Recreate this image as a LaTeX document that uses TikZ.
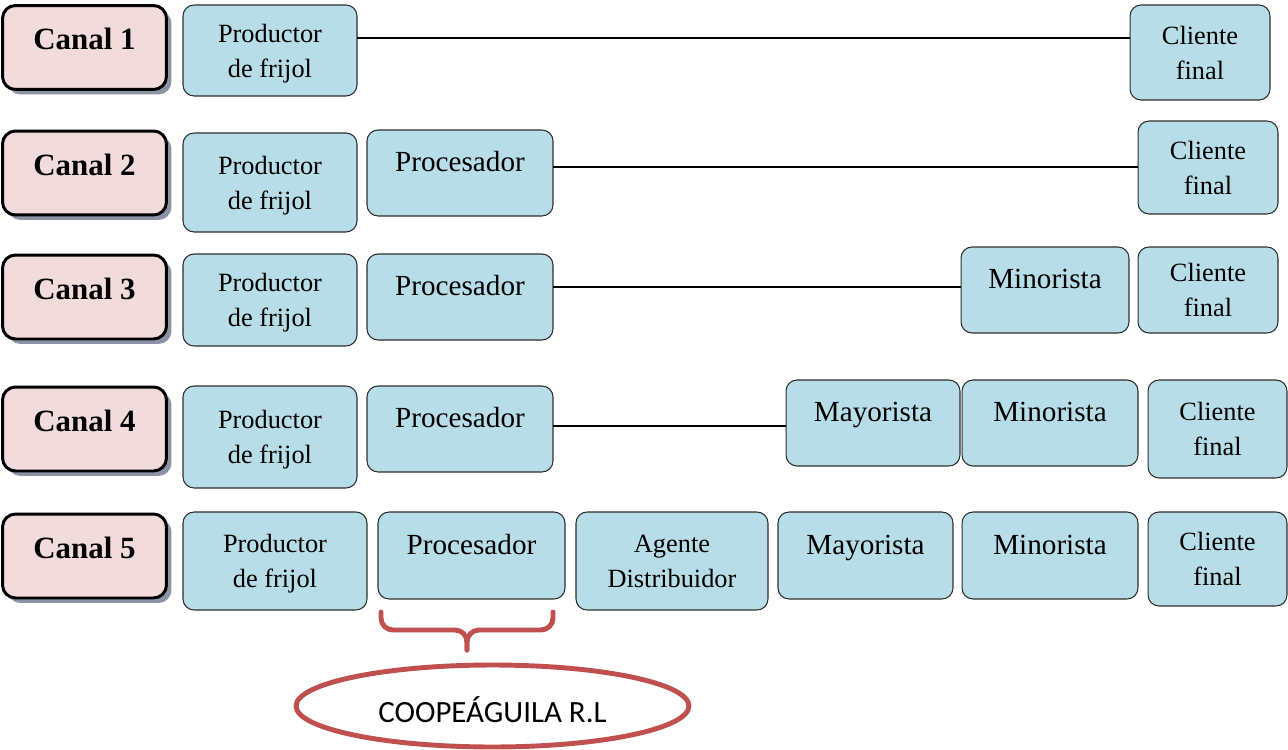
\documentclass[tikz,border=0pt]{standalone}
\usepackage{fontspec}
\setmainfont{Liberation Serif}
\newfontfamily\calibri{Carlito}
\usepackage{tikz}
\usetikzlibrary{shapes.geometric, shadows}
\definecolor{rosa}{HTML}{F2DCDB}
\definecolor{azul}{HTML}{B7DDE8}
\definecolor{borde}{HTML}{2E2E2E}
\definecolor{rojo}{HTML}{C0504D}
\definecolor{sombra}{HTML}{7D889C}
\tikzstyle{canal} = [draw=black, line width=1.7pt, fill=rosa, rounded corners=0.26cm, outer sep=0pt,
  minimum width=3.28cm, minimum height=1.68cm, font=\fontsize{17.6}{20}\selectfont\bfseries,
  text height=0.45cm, text depth=0.36cm,
  drop shadow={shadow xshift=0.1cm, shadow yshift=-0.1cm, fill=sombra, opacity=0.9}]
\tikzstyle{caja} = [draw=borde, line width=0.6pt, fill=azul, rounded corners=0.22cm, outer sep=0pt,
  align=center, font=\fontsize{15}{20}\selectfont, text depth=0pt]
\tikzstyle{cajauna} = [caja, font=\fontsize{16.6}{20}\selectfont, text height=0.4cm, text depth=0.45cm]
\tikzstyle{linea} = [line width=1.2pt]

\begin{document}
\begin{tikzpicture}[x=0.02cm, y=-0.02cm]
    \useasboundingbox (0,0) rectangle (1288,750);

    % Canal 1
    \node (can1) [canal] at (84.5,47.5) {Canal 1};
    \node (prod1) [caja, minimum width=3.48cm, minimum height=1.82cm] at (270,50.5) {Productor\\de frijol};
    \node (cli1) [caja, minimum width=2.8cm, minimum height=1.9cm] at (1200,52.5) {Cliente\\final};

    % Canal 2
    \node (can2) [canal] at (84.5,173) {Canal 2};
    \node (prod2) [caja, minimum width=3.48cm, minimum height=1.98cm] at (270,182.5) {Productor\\de frijol};
    \node (proc2) [cajauna, minimum width=3.72cm, minimum height=1.72cm] at (460,173) {Procesador};
    \node (cli2) [caja, minimum width=2.8cm, minimum height=1.86cm] at (1208,167.5) {Cliente\\final};

    % Canal 3
    \node (can3) [canal] at (84.5,297) {Canal 3};
    \node (prod3) [caja, minimum width=3.48cm, minimum height=1.84cm] at (270,300) {Productor\\de frijol};
    \node (proc3) [cajauna, minimum width=3.72cm, minimum height=1.72cm] at (460,297) {Procesador};
    \node (min3) [cajauna, minimum width=3.36cm, minimum height=1.72cm] at (1045,290) {Minorista};
    \node (cli3) [caja, minimum width=2.8cm, minimum height=1.72cm] at (1208,290) {Cliente\\final};

    % Canal 4
    \node (can4) [canal] at (84.5,429) {Canal 4};
    \node (prod4) [caja, minimum width=3.48cm, minimum height=2.04cm] at (270,437) {Productor\\de frijol};
    \node (proc4) [cajauna, minimum width=3.72cm, minimum height=1.72cm] at (460,429) {Procesador};
    \node (may4) [cajauna, minimum width=3.48cm, minimum height=1.72cm] at (873,423) {Mayorista};
    \node (min4) [cajauna, minimum width=3.52cm, minimum height=1.72cm] at (1050,423) {Minorista};
    \node (cli4) [caja, minimum width=2.78cm, minimum height=1.96cm] at (1217.5,429) {Cliente\\final};

    % Canal 5
    \node (can5) [canal] at (84.5,556) {Canal 5};
    \node (prod5) [caja, minimum width=3.68cm, minimum height=1.96cm] at (275,561) {Productor\\de frijol};
    \node (proc5) [cajauna, minimum width=3.74cm, minimum height=1.74cm] at (471.5,555.5) {Procesador};
    \node (age5) [caja, minimum width=3.84cm, minimum height=1.96cm] at (672,561) {Agente\\Distribuidor};
    \node (may5) [cajauna, minimum width=3.5cm, minimum height=1.74cm] at (865.5,555.5) {Mayorista};
    \node (min5) [cajauna, minimum width=3.52cm, minimum height=1.74cm] at (1050,555.5) {Minorista};
    \node (cli5) [caja, minimum width=2.78cm, minimum height=1.88cm] at (1217.5,559) {Cliente\\final};

    % Edges
    \draw[linea] (prod1.east |- 0,38) -- (cli1.west |- 0,38);
    \draw[linea] (proc2.east |- 0,167) -- (cli2.west |- 0,167);
    \draw[linea] (proc3.east |- 0,287) -- (min3.west |- 0,287);
    \draw[linea] (proc4.east |- 0,426) -- (may4.west |- 0,426);

    % Llave
    \draw[rojo, line width=2.8pt, line cap=round, rounded corners=0.24cm] (381,612) -- (381,630) -- (467,630) -- (467,650);
    \draw[rojo, line width=2.8pt, line cap=round, rounded corners=0.24cm] (553,612) -- (553,630) -- (467,630) -- (467,650);
    \node (coop) [ellipse, draw=rojo, line width=2.8pt, minimum width=7.86cm, minimum height=1.64cm,
      font=\calibri\fontsize{17.6}{20}\selectfont, text height=0.7cm, text depth=0.06cm] at (492.5,706) {COOPEÁGUILA R.L};
\end{tikzpicture}
\end{document}
